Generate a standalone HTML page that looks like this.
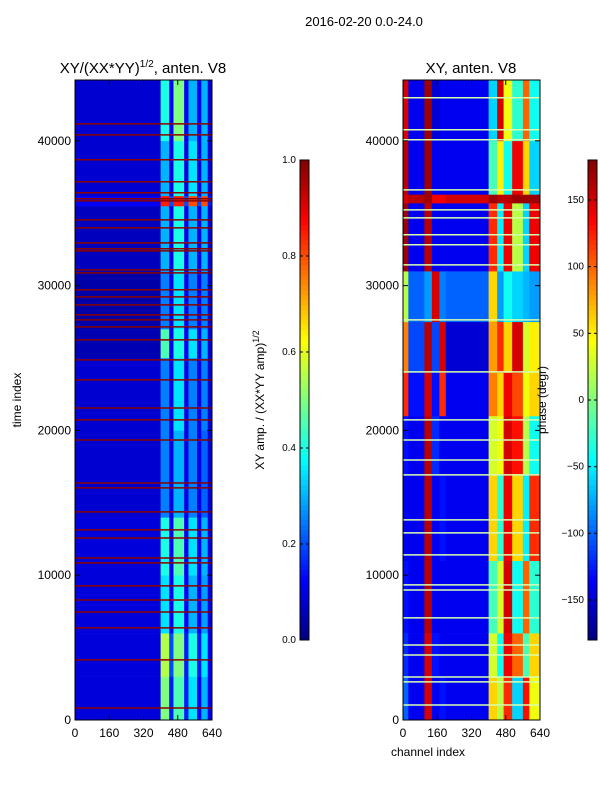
<!DOCTYPE html>
<html><head><meta charset="utf-8"><style>
body{margin:0;background:#fff;width:600px;height:800px;overflow:hidden}
svg text{font-family:"Liberation Sans",sans-serif;fill:#000}
</style></head><body>
<svg id="fig" width="600" height="800" xmlns="http://www.w3.org/2000/svg">
<text x="364" y="26" font-size="13" text-anchor="middle">2016-02-20 0.0-24.0</text>
<text x="143" y="73" font-size="15" text-anchor="middle">XY/(XX*YY)<tspan font-size="10" dy="-6">1/2</tspan><tspan dy="6">, anten. V8</tspan></text>
<text x="471" y="73" font-size="15" text-anchor="middle">XY, anten. V8</text>
<text x="428" y="756" font-size="12" text-anchor="middle">channel index</text>
<text transform="translate(21,400) rotate(-90)" font-size="12" text-anchor="middle">time index</text>
<text transform="translate(264,400) rotate(-90)" font-size="12" text-anchor="middle">XY amp. / (XX*YY amp)<tspan font-size="9" dy="-5">1/2</tspan></text>
<g id="g"></g>
<text transform="translate(546,400) rotate(-90)" font-size="12" text-anchor="middle">phase (degr)</text>
</svg>
<script>
const leftColEdges=[0,400,440,460,510,530,570,590,620,640];
const leftTimeEdges=[0,3000,6000,10000,14000,20000,25000,27000,31000,35500,36200,40000,44200];
const leftValues=[
[0.09,0.5,0.15,0.45,0.15,0.35,0.12,0.3,0.1],
[0.09,0.55,0.2,0.5,0.15,0.4,0.15,0.35,0.1],
[0.09,0.35,0.12,0.4,0.12,0.3,0.12,0.28,0.09],
[0.09,0.4,0.12,0.45,0.12,0.35,0.12,0.3,0.09],
[0.08,0.25,0.1,0.3,0.1,0.25,0.1,0.22,0.08],
[0.08,0.25,0.1,0.35,0.1,0.25,0.1,0.25,0.08],
[0.05,0.45,0.12,0.4,0.12,0.35,0.1,0.3,0.08],
[0.04,0.25,0.1,0.35,0.1,0.25,0.1,0.25,0.08],
[0.06,0.3,0.1,0.4,0.1,0.3,0.1,0.3,0.08],
[0.12,0.85,0.2,0.85,0.2,0.8,0.2,0.8,0.15],
[0.08,0.3,0.1,0.4,0.1,0.35,0.1,0.3,0.08],
[0.08,0.4,0.12,0.5,0.12,0.3,0.12,0.3,0.08]];
const leftLineTimes=[830,4150,6360,7460,8290,9260,10850,11190,12570,13130,14370,16030,16370,19340,20730,21550,23490,24870,26250,27150,27630,27980,28670,29220,29710,30880,31090,32400,32550,32950,33990,34540,35850,36000,36410,37170,38690,40410,41170];
const rightColEdges=[0,25,100,135,170,200,400,440,470,510,560,590,640];
const rightTimeEdges=[0,3000,6000,11000,17000,21000,24000,27500,31000,35700,36300,40000,44200];
const rightPhase=[
[-100,-140,150,-140,-130,-140,60,20,120,-60,130,40],
[-120,-140,150,-130,-140,-140,30,-40,140,100,-20,60],
[-130,-140,160,-140,-140,-140,-20,30,150,-40,100,-30],
[-140,-140,160,-140,-130,-140,60,-30,140,60,-50,120],
[-130,-140,160,-120,-140,-140,30,40,150,130,20,-40],
[120,-130,150,-130,120,-140,90,60,140,110,40,60],
[90,-110,160,-110,150,-150,80,120,60,150,30,50],
[20,-100,-80,150,-90,-100,60,-80,-40,-60,-70,-80],
[170,-140,160,-140,-140,-140,120,-50,140,20,-60,140],
[150,160,170,140,140,150,170,160,160,170,170,170],
[160,-140,170,-140,-140,-140,-20,50,-40,140,60,-60],
[150,-140,170,-150,-140,-140,-60,150,40,-30,100,-40]];
const rightLineTimes=[1040,2630,2970,4490,5180,7050,8980,9330,11400,12920,13820,16930,17960,19340,20730,24040,27630,31430,32820,33510,34680,35230,36610,40070,40760,42970];
const xTicks=[0,160,320,480,640];
const yTicks=[0,10000,20000,30000,40000];
const ampTicks=[0,0.2,0.4,0.6,0.8,1.0];
const phaseTicks=[-150,-100,-50,0,50,100,150];

const NS="http://www.w3.org/2000/svg";
const g=document.getElementById('g');
function jet(v){v=Math.max(0,Math.min(1,v));
 const r=Math.max(0,Math.min(1,1.5-Math.abs(4*v-3))),gg=Math.max(0,Math.min(1,1.5-Math.abs(4*v-2))),b=Math.max(0,Math.min(1,1.5-Math.abs(4*v-1)));
 return `rgb(${Math.round(r*255)},${Math.round(gg*255)},${Math.round(b*255)})`;}
function el(t,a,p){const e=document.createElementNS(NS,t);for(const k in a)e.setAttribute(k,a[k]);(p||g).appendChild(e);return e;}
const Y0=720,Y1=80,TMAX=44200;
function ys(t){return Y0-(t/TMAX)*(Y0-Y1);}
function panel(x0,x1,colEdges,timeEdges,vals,norm,lineTimes,lineColor,name){
 const xs=c=>x0+(c/640)*(x1-x0);
 const grp=el('g',{});
 
 
 for(let i=0;i<timeEdges.length-1;i++)for(let j=0;j<colEdges.length-1;j++){
  const r=el('rect',{x:xs(colEdges[j]),y:ys(timeEdges[i+1]),width:xs(colEdges[j+1])-xs(colEdges[j])+0.3,height:ys(timeEdges[i])-ys(timeEdges[i+1])+0.3,fill:jet(norm(vals[i][j]))},grp);
  
  
 }
 lineTimes.forEach(t=>{const l=el('line',{x1:x0,x2:x1,y1:ys(t),y2:ys(t),stroke:lineColor,'stroke-width':1.5},grp);
  
  });
 const f=el('rect',{x:x0,y:Y1,width:x1-x0,height:Y0-Y1,fill:'none',stroke:'#000','stroke-width':1});
 
 
 xTicks.forEach(v=>{const x=xs(v);
  el('line',{x1:x,x2:x,y1:Y0,y2:Y0-5,stroke:'#000'});el('line',{x1:x,x2:x,y1:Y1,y2:Y1+5,stroke:'#000'});
  const t=el('text',{x:x,y:Y0+17,'font-size':12,'text-anchor':'middle'});t.textContent=v;
  
  });
 yTicks.forEach(v=>{const y=ys(v);
  el('line',{x1:x0,x2:x0+5,y1:y,y2:y,stroke:'#000'});el('line',{x1:x1,x2:x1-5,y1:y,y2:y,stroke:'#000'});
  const t=el('text',{x:x0-4,y:y+4,'font-size':12,'text-anchor':'end'});t.textContent=v;
  
  });
}
panel(75,212,leftColEdges,leftTimeEdges,leftValues,v=>v,leftLineTimes,'#8b0000','left');
panel(403,540,rightColEdges,rightTimeEdges,rightPhase,v=>(v+180)/360,rightLineTimes,'#d8ffb0','right');
function cbar(x,ticks,lo,hi,fmt,name){
 const w=9,top=160,bot=640;
 const grp=el('g',{});
 
 
 for(let i=0;i<96;i++){el('rect',{x:x,y:bot-(i+1)*5,width:w,height:5.3,fill:jet((i+0.5)/96)},grp);}
 el('rect',{x:x,y:top,width:w,height:bot-top,fill:'none',stroke:'#000'},grp);
 ticks.forEach(v=>{const y=bot-(v-lo)/(hi-lo)*(bot-top);
  el('line',{x1:x+w-3,x2:x+w,y1:y,y2:y,stroke:'#000'},grp);el('line',{x1:x,x2:x+3,y1:y,y2:y,stroke:'#000'},grp);
  const t=el('text',{x:x-4,y:y+3,'font-size':10,'text-anchor':'end'},grp);t.textContent=fmt(v);
  
  });
}
cbar(300,ampTicks,0,1,v=>v.toFixed(1),'amp-colorbar');
cbar(588,phaseTicks,-180,180,v=>v<0?'\u2212'+(-v):''+v,'phase-colorbar');
</script>
</body></html>
